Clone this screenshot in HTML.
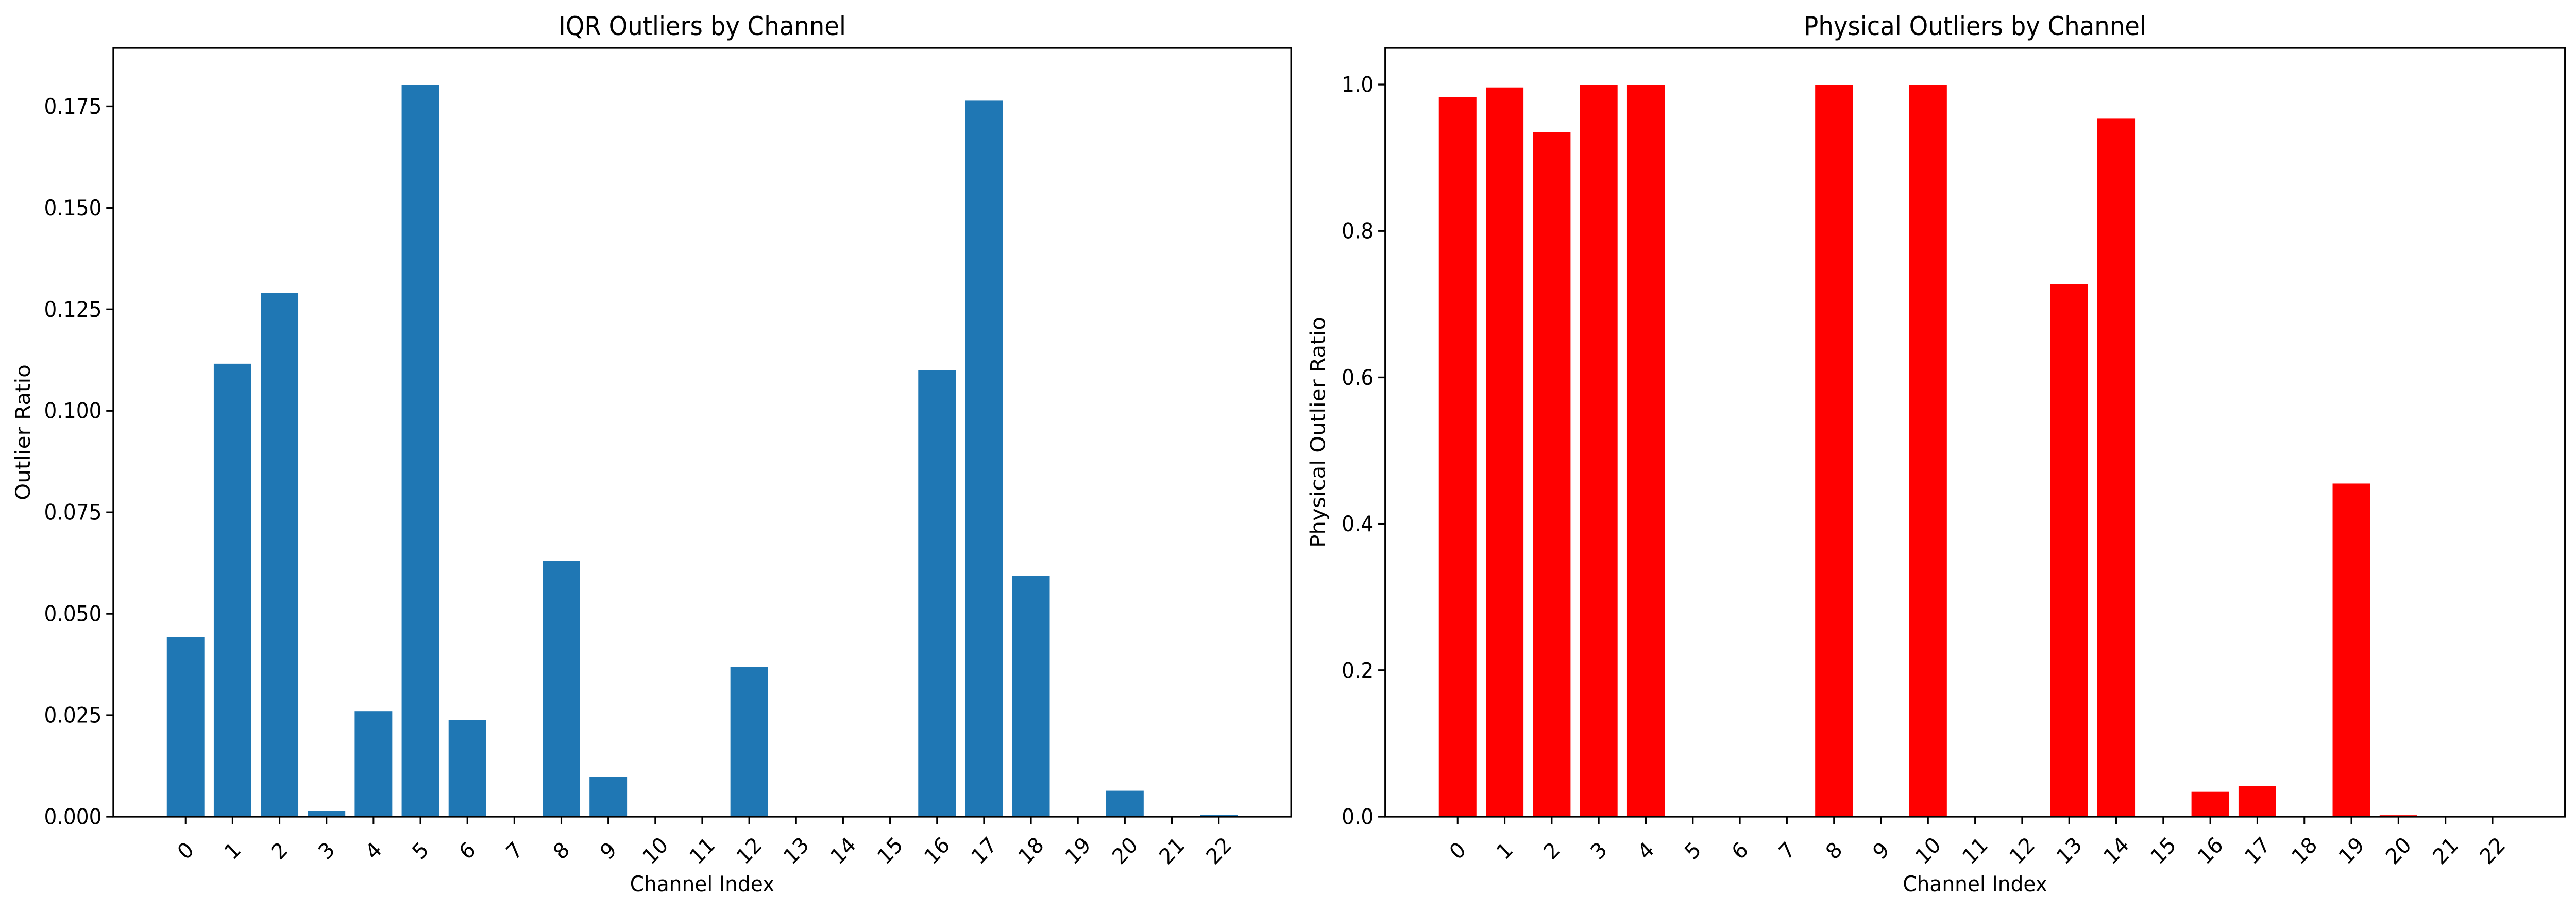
<!DOCTYPE html>
<html><head><meta charset="utf-8"><meta name="viewport" content="width=5367, initial-scale=1">
<style>
html,body{margin:0;padding:0;background:#fff;width:100%;height:100%;overflow:hidden;}
svg{display:block;position:fixed;left:0;top:0;width:100vw;height:100vh;font-family:"DejaVu Sans","Liberation Sans",sans-serif;}
</style></head><body>
<svg id="fig" viewBox="0 0 5367 1768" preserveAspectRatio="none" xmlns="http://www.w3.org/2000/svg"></svg>
<script>
const categories = ["0","1","2","3","4","5","6","7","8","9","10","11","12","13","14","15","16","17","18","19","20","21","22"];
const iqrValues = [0.0443,0.1116,0.129,0.0015,0.026,0.1803,0.0238,0,0.063,0.0099,0,0,0.0369,0,0,0,0.110,0.1764,0.0594,0,0.0064,0,0.0004];
const physValues = [0.983,0.996,0.935,1.0,1.0,0,0,0,1.0,0,1.0,0,0,0.727,0.954,0,0.034,0.042,0,0.455,0.002,0,0];
const iqrTicks = [0,0.025,0.05,0.075,0.1,0.125,0.15,0.175];
const iqrTickLabels = ["0.000","0.025","0.050","0.075","0.100","0.125","0.150","0.175"];
const physTicks = [0,0.2,0.4,0.6,0.8,1.0];
const physTickLabels = ["0.0","0.2","0.4","0.6","0.8","1.0"];

const NS="http://www.w3.org/2000/svg";
const svg=document.getElementById('fig');
function el(tag,attrs,parent){const e=document.createElementNS(NS,tag);for(const k in attrs)e.setAttribute(k,attrs[k]);(parent||svg).appendChild(e);return e;}

function drawPanel(cfg){
  const g=el('g',{});
  
  
  const L=cfg.left,R=cfg.right,T=93,B=1585;
  const n=categories.length;
  const xmin=-0.4-0.05*(n-1+0.8),xmax=n-1+0.4+0.05*(n-1+0.8);
  const xs=v=>L+(v-xmin)/(xmax-xmin)*(R-L);
  const ys=v=>B-(v/cfg.ymax)*(B-T);
  const bw=xs(0.8)-xs(0);
  cfg.values.forEach((v,i)=>{
    const r=el('rect',{x:xs(i)-bw/2,y:ys(v),width:bw,height:Math.max(0,B-ys(v)),fill:cfg.color},g);
    
    
  });
  categories.forEach((c,i)=>{
    const x=xs(i);
    el('line',{x1:x,y1:B,x2:x,y2:B+14.6,stroke:'#000','stroke-width':3.3},g);
    const t=el('text',{x:x,y:1651,'font-size':42,'text-anchor':'middle','dominant-baseline':'central',transform:`rotate(-45 ${x} 1651)`},g);
    t.textContent=c;
    
    
  });
  cfg.ticks.forEach((v,i)=>{
    const y=ys(v);
    el('line',{x1:L-14.6,y1:y,x2:L,y2:y,stroke:'#000','stroke-width':3.3},g);
    const t=el('text',{x:L-24,y:y,'font-size':42,'text-anchor':'end','dominant-baseline':'central'},g);
    t.textContent=cfg.tickLabels[i];
    
    
  });
  const fr=el('rect',{x:L,y:T,width:R-L,height:B-T,fill:'none',stroke:'#000','stroke-width':3.3},g);
  
  
  const tt=el('text',{x:(L+R)/2,y:68,'font-size':50,'text-anchor':'middle'},g);
  tt.textContent=cfg.title;
  
  
  const xl=el('text',{x:(L+R)/2,y:1730,'font-size':42,'text-anchor':'middle'},g);
  xl.textContent='Channel Index';
  
  
  const cy=(T+B)/2;
  const yl=el('text',{x:cfg.ylabX,y:cy,'font-size':42,'text-anchor':'middle',transform:`rotate(-90 ${cfg.ylabX} ${cy})`},g);
  yl.textContent=cfg.ylabel;
  
  
}
drawPanel({name:'iqr-outliers-chart',left:236,right:2690,values:iqrValues,color:'#1f77b4',ymax:0.1894,ticks:iqrTicks,tickLabels:iqrTickLabels,title:'IQR Outliers by Channel',ylabel:'Outlier Ratio',ylabX:62});
drawPanel({name:'physical-outliers-chart',left:2886,right:5344,values:physValues,color:'#ff0000',ymax:1.05,ticks:physTicks,tickLabels:physTickLabels,title:'Physical Outliers by Channel',ylabel:'Physical Outlier Ratio',ylabX:2760});
</script>
</body></html>
